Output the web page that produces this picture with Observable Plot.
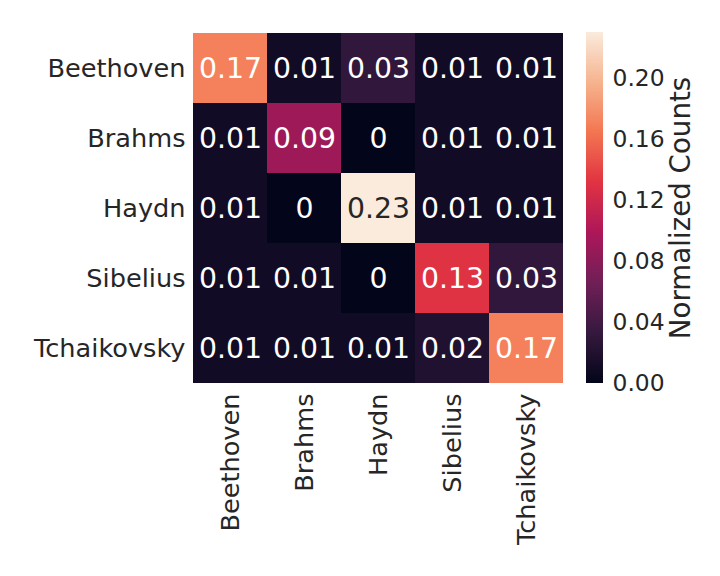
<!DOCTYPE html>
<html>
<head>
<meta charset="utf-8">
<script src="https://cdn.jsdelivr.net/npm/d3@7"></script>
<script src="https://cdn.jsdelivr.net/npm/@observablehq/plot@0.6"></script>
<style>
  html, body { margin: 0; padding: 0; background: white; }
  #wrap { position: relative; width: 720px; height: 576px; }
  #wrap svg { position: absolute; left: 0; top: 0; }
</style>
</head>
<body>
<div id="wrap"></div>
<script>
// ---- data ----
const composers = ["Beethoven", "Brahms", "Haydn", "Sibelius", "Tchaikovsky"];
const rowBeethoven   = [0.17, 0.01, 0.03, 0.01, 0.01];
const rowBrahms      = [0.01, 0.09, 0,    0.01, 0.01];
const rowHaydn       = [0.01, 0,    0.23, 0.01, 0.01];
const rowSibelius    = [0.01, 0.01, 0,    0.13, 0.03];
const rowTchaikovsky = [0.01, 0.01, 0.01, 0.02, 0.17];
const colorbarTicks  = [0, 0.04, 0.08, 0.12, 0.16, 0.20];
const colorMax = 0.23;

const rows = [rowBeethoven, rowBrahms, rowHaydn, rowSibelius, rowTchaikovsky];
const cells = [];
rows.forEach((r, i) => r.forEach((v, j) => cells.push({actual: composers[i], pred: composers[j], value: v})));

// seaborn "rocket" colormap stops
const rocketStops = ["#03051a", "#35193e", "#701f57", "#ad1759", "#e13342", "#f37651", "#f6b48f", "#faebdd"];
const rocket = d3.piecewise(d3.interpolateRgb, rocketStops);
const colorScale = {type: "linear", domain: [0, colorMax], interpolate: rocket};
const fmt = v => v === 0 ? "0" : v.toFixed(2);
const ink = "#262626";
const font = "DejaVu Sans";

const main = Plot.plot({
  width: 720, height: 576,
  marginLeft: 193, marginRight: 157, marginTop: 32, marginBottom: 193,
  style: {fontFamily: font, background: "transparent", color: ink},
  x: {domain: composers, padding: 0, label: null},
  y: {domain: composers, padding: 0, label: null},
  color: colorScale,
  marks: [
    Plot.cell(cells, {x: "pred", y: "actual", fill: "value", shapeRendering: "crispEdges"}),
    Plot.text(cells.filter(d => d.value <= 0.2), {x: "pred", y: "actual", text: d => fmt(d.value), fill: "white", fontSize: 28.3}),
    Plot.text(cells.filter(d => d.value > 0.2), {x: "pred", y: "actual", text: d => fmt(d.value), fill: ink, fontSize: 28.3}),
    Plot.axisY({tickSize: 0, tickPadding: 8, fontSize: 25.6, label: null, fill: ink}),
    Plot.axisX({tickSize: 0, tickPadding: 10, tickRotate: -90, fontSize: 25.6, label: null, fill: ink})
  ]
});

const step = 0.0005;
const gradient = d3.range(0, colorMax, step);
const bar = Plot.plot({
  width: 720, height: 576,
  marginLeft: 586, marginRight: 117, marginTop: 32, marginBottom: 193,
  style: {fontFamily: font, background: "transparent", color: ink},
  y: {domain: [0, colorMax], label: null},
  color: colorScale,
  marks: [
    Plot.rect(gradient, {y1: d => d, y2: d => Math.min(d + step * 2, colorMax), fill: d => d, shapeRendering: "crispEdges"}),
    Plot.axisY(colorbarTicks, {anchor: "right", tickSize: 0, tickPadding: 9, tickFormat: d3.format(".2f"), fontSize: 23.4, label: null, fill: ink}),
    Plot.text(["Normalized Counts"], {frameAnchor: "right", dx: 78, rotate: -90, textAnchor: "middle", fontSize: 27.7, fill: ink})
  ]
});

const wrap = document.getElementById("wrap");
wrap.appendChild(main);
wrap.appendChild(bar);
</script>
</body>
</html>
